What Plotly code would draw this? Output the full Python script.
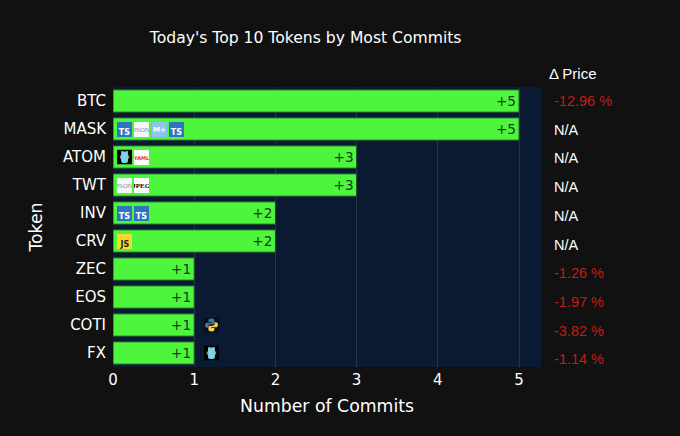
import base64
import plotly.graph_objects as go

tokens = ["BTC", "MASK", "ATOM", "TWT", "INV", "CRV", "ZEC", "EOS", "COTI", "FX"]
commits = [5, 5, 3, 3, 2, 2, 1, 1, 1, 1]
price_change = ["-12.96 %", "N/A", "N/A", "N/A", "N/A", "N/A", "-1.26 %", "-1.97 %", "-3.82 %", "-1.14 %"]
file_types = [
    [],
    ["TS", "JSON", "M+", "TS"],
    ["GO", "YAML"],
    ["JSON", "JPEG"],
    ["TS", "TS"],
    ["JS"],
    [],
    [],
    ["PY"],
    ["GO"],
]

# label, label colour, background, font size, font, vertical align
badge_style = {
    "TS": ("<b>TS</b>", "#ffffff", "#2f74c0", 8, "DejaVu Sans", "bottom"),
    "JSON": ("JSON", "#7f8fb0", "#f4f6fa", 7, "Liberation Sans Narrow", "middle"),
    "M+": ("<b>M+</b>", "#ffffff", "#8fc3f2", 7, "DejaVu Sans", "middle"),
    "YAML": ("<b>YAML</b>", "#e8302a", "#ffffff", 5, "DejaVu Sans", "middle"),
    "JPEG": ("<b>JPEG</b>", "#000000", "#ffffff", 7, "Liberation Sans Narrow", "middle"),
    "JS": ("<b>JS</b>", "#222222", "#f7d92a", 8, "DejaVu Sans", "bottom"),
}

go_svg = """<svg xmlns='http://www.w3.org/2000/svg' viewBox='0 0 15 15'>
<rect width='15' height='15' fill='#000'/>
<rect x='4' y='2' width='7' height='11.5' rx='2.5' fill='#7fd3e6'/>
<circle cx='5' cy='2.6' r='1' fill='#7fd3e6'/><circle cx='10' cy='2.6' r='1' fill='#7fd3e6'/>
<rect x='2.8' y='6' width='1.4' height='3' fill='#8a9a9e'/><rect x='10.8' y='6' width='1.4' height='3' fill='#8a9a9e'/>
</svg>"""
py_svg = """<svg xmlns='http://www.w3.org/2000/svg' viewBox='0 0 15 15'>
<rect width='15' height='15' fill='#0a0f16'/>
<path d='M7.5 1C5 1 4.5 2 4.5 3V4.5H7.7V5.2H3C1.6 5.2 1 6.3 1 7.8S1.7 10.3 3 10.3H4.3V8.7C4.3 7.6 5.2 6.8 6.2 6.8H9C10 6.8 10.6 6 10.6 5.2V3C10.6 1.8 9.4 1 7.5 1Z' fill='#3b78ad'/>
<path d='M7.5 14C10 14 10.5 13 10.5 12V10.5H7.3V9.8H12C13.4 9.8 14 8.7 14 7.2S13.3 4.7 12 4.7H10.7V6.3C10.7 7.4 9.8 8.2 8.8 8.2H6C5 8.2 4.4 9 4.4 9.8V12C4.4 13.2 5.6 14 7.5 14Z' fill='#f5cf47'/>
</svg>"""


def svg_uri(svg):
    return "data:image/svg+xml;base64," + base64.b64encode(svg.encode()).decode()


svg_icons = {"GO": svg_uri(go_svg), "PY": svg_uri(py_svg)}

fig = go.Figure()
fig.add_trace(go.Bar(
    x=commits,
    y=tokens,
    orientation="h",
    width=0.8,
    marker=dict(color="#4df53c", line=dict(color="#1f4a2a", width=1)),
    text=[f"+{c}" for c in commits],
    textposition="inside",
    insidetextanchor="end",
    textangle=0,
    textfont=dict(color="#1c3a1c", size=15),
))

# file type badges sit inside the bar, or just after it for the one-commit rows
icon_w = 15 / 81.2
icon_h = 15 / 27.9
for token, count, types in zip(tokens, commits, file_types):
    start = 0.05 if count > 1 else count + 0.12
    for i, kind in enumerate(types):
        left = start + i * 0.213
        if kind in svg_icons:
            fig.add_layout_image(
                source=svg_icons[kind], xref="x", yref="y", x=left, y=token,
                sizex=icon_w, sizey=icon_h, xanchor="left", yanchor="middle",
                sizing="stretch", layer="above",
            )
        else:
            label, color, bg, size, family, valign = badge_style[kind]
            fig.add_annotation(
                x=left, y=token, xref="x", yref="y", text=label, showarrow=False,
                xanchor="left", yanchor="middle", width=15, height=15, borderpad=0,
                borderwidth=0, bgcolor=bg, align="center", valign=valign,
                font=dict(color=color, size=size, family=family),
            )

fig.add_annotation(
    x=1.013, y=1.047, xref="paper", yref="paper", text="Δ Price", showarrow=False,
    xanchor="left", yanchor="middle", font=dict(color="#ffffff", size=15, family="Liberation Sans"),
)
for i, change in enumerate(price_change):
    fig.add_annotation(
        x=1.0255, y=0.95 - i * 0.1025, xref="paper", yref="paper", text=change, showarrow=False,
        xanchor="left", yanchor="middle",
        font=dict(color="#ffffff" if change == "N/A" else "#c81a14", size=14.5, family="Liberation Sans"),
    )

fig.update_layout(
    template="plotly_dark",
    width=680,
    height=436,
    margin=dict(l=113, r=139, t=87, b=69),
    paper_bgcolor="#111111",
    plot_bgcolor="#0a1a33",
    font=dict(family="DejaVu Sans", color="#ffffff"),
    title=dict(text="Today's Top 10 Tokens by Most Commits", x=0.4495, xanchor="center", y=0.915,
               yanchor="middle", font=dict(size=15.6, color="#ffffff")),
    showlegend=False,
)
fig.update_xaxes(
    range=[0, 5.27], tickvals=[0, 1, 2, 3, 4, 5], gridcolor="#24344f", zeroline=False,
    ticklabelstandoff=2,
    title=dict(text="Number of Commits", font=dict(size=17.3), standoff=11),
    tickfont=dict(size=15),
)
fig.update_yaxes(
    categoryorder="array", categoryarray=tokens, range=[9.5, -0.5], showgrid=False,
    ticklabelstandoff=6,
    title=dict(text="Token", font=dict(size=17.3), standoff=15),
    tickfont=dict(size=15),
)

# drop the browser's default page margin so the figure fills the window
fig.write_html(
    "out.html",
    config={"displayModeBar": False},
    post_script="document.body.style.margin='0';document.body.style.background='#111111';",
)
